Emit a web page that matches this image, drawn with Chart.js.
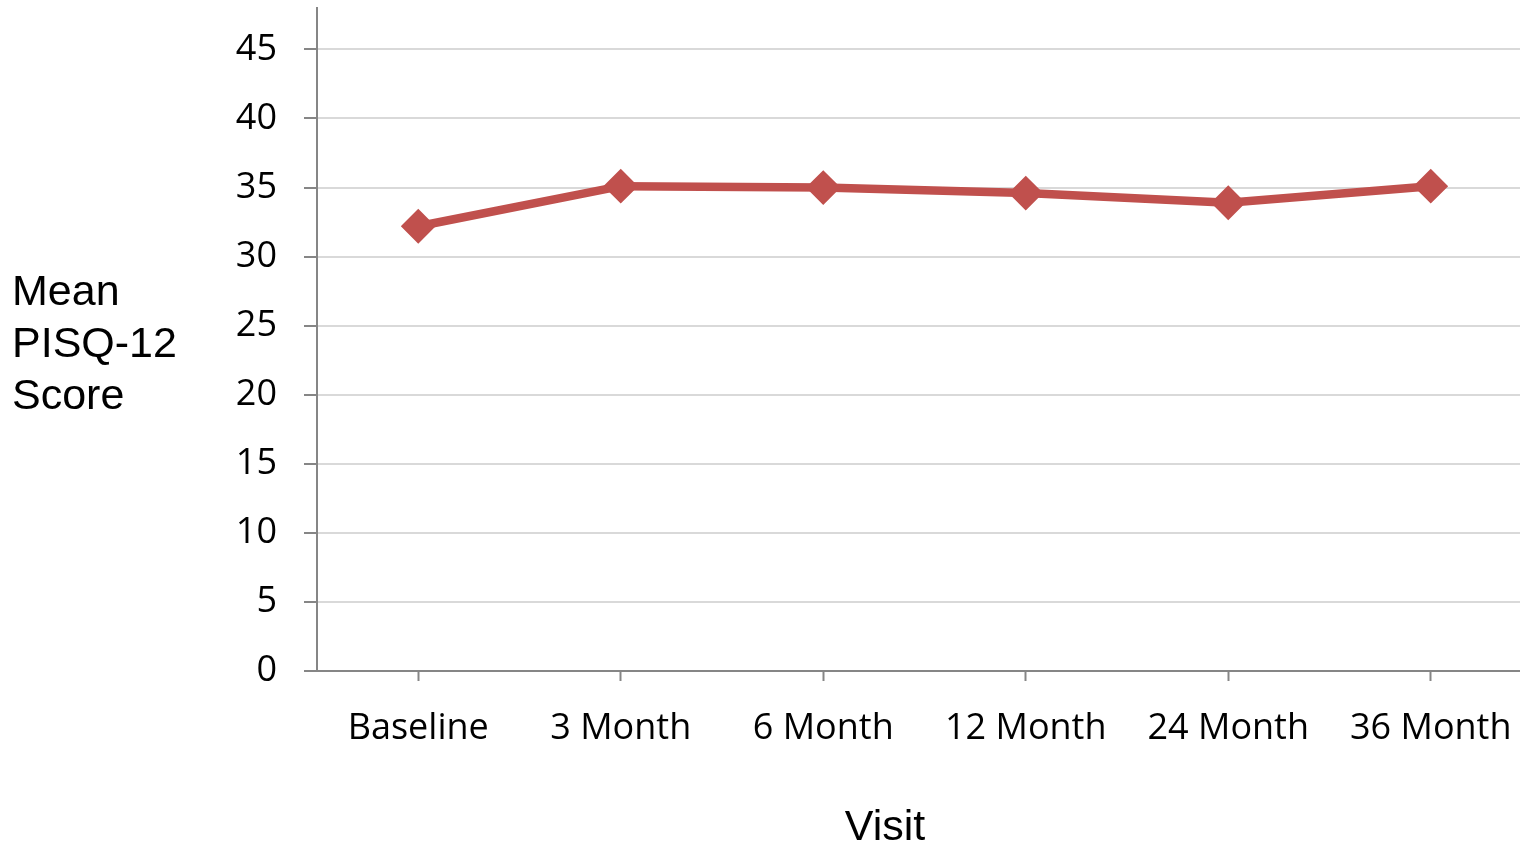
<!DOCTYPE html>
<html>
<head>
<meta charset="utf-8">
<script src="https://cdn.jsdelivr.net/npm/chart.js@4/dist/chart.umd.min.js"></script>
<style>
  html, body { margin: 0; padding: 0; background: #fff; overflow: hidden; }
  #chart-area { display: block; }
</style>
</head>
<body>
<canvas id="chart-area" width="1532" height="844"></canvas>
<script>
var visits = ['Baseline', '3 Month', '6 Month', '12 Month', '24 Month', '36 Month'];
var meanScores = [32.2, 35.1, 35.0, 34.6, 33.9, 35.1];
var yTicks = [0, 5, 10, 15, 20, 25, 30, 35, 40, 45];
var yTitleLines = ['Mean', 'PISQ-12', 'Score'];
var xTitle = 'Visit';

var red = '#C0504D';
var axisGrey = '#868686';

// titles sit outside the plot: left block is horizontal, "Visit" below the labels
var axisTitles = {
    id: 'axisTitles',
    afterDraw: function(chart) {
        var ctx = chart.ctx;
        ctx.save();
        ctx.fillStyle = '#000';
        ctx.font = '43px "Liberation Sans", Arial, sans-serif';
        ctx.textAlign = 'left';
        ctx.textBaseline = 'middle';
        yTitleLines.forEach(function(line, i) {
            ctx.fillText(line, 12, 293 + i * 52);
        });
        ctx.textAlign = 'center';
        ctx.fillText(xTitle, 885, 828);
        ctx.restore();
    }
};

// keep label overhang from shrinking the plot area
function noEdgePadding(scale) {
    scale.paddingTop = 0;
    scale.paddingBottom = 0;
    scale.paddingLeft = 0;
    scale.paddingRight = 0;
}

var config = {
    type: 'line',
    data: {
        labels: visits,
        datasets: [{
            data: meanScores,
            borderColor: red,
            backgroundColor: red,
            borderWidth: 8.5,
            pointStyle: 'rectRot',
            pointRadius: 16,
            pointBorderWidth: 2,
            pointBackgroundColor: red,
            pointBorderColor: red,
            tension: 0
        }]
    },
    options: {
        responsive: false,
        animation: false,
        layout: {
            autoPadding: false,
            padding: { top: 8, left: 0, right: 0, bottom: 0 }
        },
        plugins: {
            legend: { display: false },
            tooltip: { enabled: false }
        },
        scales: {
            x: {
                offset: true,
                grid: {
                    display: true,
                    offset: false,
                    drawOnChartArea: false,
                    drawTicks: true,
                    tickLength: 10,
                    tickWidth: 2,
                    tickColor: axisGrey
                },
                border: { color: axisGrey, width: 2 },
                ticks: {
                    color: '#000',
                    font: { family: '"Open Sans", sans-serif', size: 36 },
                    padding: 26,
                    maxRotation: 0,
                    autoSkip: false
                },
                afterFit: function(scale) {
                    scale.height = 173;
                    noEdgePadding(scale);
                }
            },
            y: {
                min: 0,
                max: 48,
                afterBuildTicks: function(scale) {
                    scale.ticks = yTicks.map(function(v) { return { value: v }; });
                },
                grid: {
                    color: '#D9D9D9',
                    lineWidth: 2,
                    tickLength: 13,
                    tickWidth: 2,
                    tickColor: axisGrey
                },
                border: { color: axisGrey, width: 2 },
                ticks: {
                    color: '#000',
                    font: { family: '"Open Sans", sans-serif', size: 36 },
                    padding: 27
                },
                afterFit: function(scale) {
                    scale.width = 317;
                    noEdgePadding(scale);
                }
            }
        }
    },
    plugins: [axisTitles]
};

window.onload = function() {
    var ctx = document.getElementById('chart-area').getContext('2d');
    window.visitChart = new Chart(ctx, config);
};
</script>
</body>
</html>
